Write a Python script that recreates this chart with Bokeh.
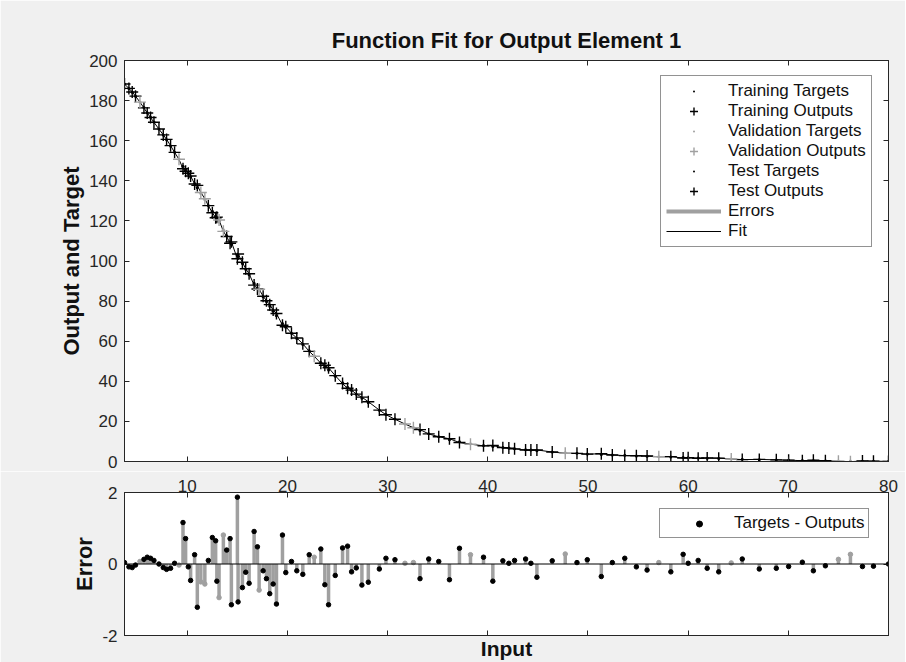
from bokeh.plotting import figure
from bokeh.models import Range1d, LinearAxis, FixedTicker, Legend, LegendItem, ColumnDataSource, Span
from bokeh.layouts import column
from bokeh.embed import file_html
from bokeh.resources import INLINE

# ---------------- data ----------------
x_in = [3.73, 4.17, 4.5, 4.83, 5.27, 5.67, 6.0, 6.33, 6.67, 7.17,
        7.6, 7.93, 8.33, 8.73, 9.17, 9.57, 9.83, 10.1, 10.33, 10.73,
        11.0, 11.35, 11.75, 12.1, 12.5, 12.83, 12.95, 13.17, 13.6, 13.93,
        14.27, 14.4, 15.0, 15.07, 15.5, 15.83, 16.17, 16.67, 17.0, 17.17,
        17.57, 17.9, 18.23, 18.57, 18.9, 19.5, 19.83, 20.4, 20.93, 21.53,
        22.17, 22.67, 23.33, 23.73, 24.1, 24.77, 25.5, 26.0, 26.4, 26.87,
        27.43, 28.07, 29.17, 29.83, 30.73, 31.73, 32.57, 33.23, 34.1, 35.1,
        36.17, 37.17, 38.27, 39.57, 40.5, 41.5, 42.1, 42.67, 43.77, 44.3,
        44.9, 46.43, 47.73, 48.9, 49.93, 51.33, 52.43, 53.67, 54.83, 55.9,
        57.07, 58.27, 59.5, 60.0, 61.0, 61.9, 63.05, 64.3, 65.4, 67.1,
        68.8, 70.03, 71.4, 72.5, 73.7, 75.0, 76.2, 77.4, 78.5, 80.0]

targets = [188.3, 186.0, 184.2, 182.2, 179.3, 176.5, 174.0, 171.7, 169.3, 165.8,
           162.8, 160.5, 157.4, 154.2, 150.7, 147.2, 145.5, 143.7, 141.9, 138.7,
           136.5, 133.7, 130.5, 127.7, 124.8, 122.2, 121.4, 119.5, 115.6, 112.6,
           109.6, 108.4, 103.0, 102.4, 98.7, 95.9, 93.1, 88.9, 86.5, 85.2,
           82.2, 79.8, 77.4, 75.0, 72.7, 68.8, 67.0, 64.0, 61.4, 58.4,
           55.2, 52.7, 49.4, 47.4, 45.6, 42.5, 39.3, 37.0, 35.4, 33.5,
           31.5, 29.3, 25.5, 23.5, 21.2, 18.7, 16.9, 15.5, 13.9, 12.4,
           10.9, 9.9, 8.9, 8.0, 7.5, 7.0, 6.7, 6.4, 5.9, 5.7,
           5.4, 4.8, 4.4, 4.1, 3.8, 3.5, 3.3, 3.1, 2.8, 2.6,
           2.4, 2.2, 2.0, 1.9, 1.75, 1.6, 1.45, 1.25, 1.1, 0.9,
           0.7, 0.6, 0.45, 0.4, 0.3, 0.25, 0.2, 0.15, 0.1, 0.05]

errors = [0.04, -0.08, -0.10, -0.03, 0.07, 0.13, 0.19, 0.16, 0.10, 0.0,
          -0.10, -0.15, -0.12, 0.02, -0.03, 1.16, 0.71, -0.08, -0.46, 0.26,
          -1.21, -0.50, -0.56, 0.10, 0.74, 0.65, -0.48, -0.94, 0.81, 0.39,
          0.71, -1.14, 1.87, -1.06, -0.66, -0.23, -0.54, 0.91, 0.48, -0.73,
          -0.19, -0.41, -0.83, -0.56, -1.12, 0.81, -0.24, 0.07, -0.19, -0.29,
          0.26, 0.19, 0.42, -0.58, -1.14, -0.32, 0.45, 0.50, -0.22, -0.11,
          -0.59, -0.51, -0.14, 0.16, 0.12, 0.02, 0.04, -0.41, 0.14, 0.07,
          -0.44, 0.44, 0.26, 0.19, -0.48, 0.09, 0.02, 0.10, 0.14, 0.02,
          -0.37, 0.09, 0.28, 0.04, 0.12, -0.35, 0.04, 0.16, -0.08, -0.17,
          0.04, -0.22, 0.27, 0.02, 0.10, -0.12, -0.22, 0.03, 0.14, -0.14,
          -0.12, -0.07, 0.05, -0.19, -0.05, 0.13, 0.27, -0.07, -0.06, 0.0]

# t = training, v = validation, s = test
sets = ["t", "t", "t", "t", "v", "t", "t", "t", "t", "t",
        "t", "t", "t", "t", "v", "t", "t", "t", "t", "s",
        "t", "v", "v", "t", "t", "t", "t", "v", "v", "t",
        "t", "s", "t", "t", "t", "t", "t", "t", "t", "v",
        "t", "t", "t", "t", "t", "t", "s", "t", "t", "t",
        "t", "v", "t", "t", "t", "t", "t", "t", "s", "t",
        "t", "t", "t", "t", "t", "v", "v", "t", "t", "t",
        "t", "t", "v", "t", "t", "s", "t", "t", "t", "t",
        "t", "t", "v", "t", "t", "t", "s", "t", "t", "t",
        "v", "t", "t", "t", "t", "t", "s", "v", "t", "t",
        "t", "t", "s", "t", "t", "v", "v", "t", "t", "t"]

x_ticks = [10, 20, 30, 40, 50, 60, 70, 80]
y_ticks = [0, 20, 40, 60, 80, 100, 120, 140, 160, 180, 200]
e_ticks = [-2, 0, 2]
e_tick_labels = {-2: "-2", 0: "0", 2: "2"}

outputs = [t - e for t, e in zip(targets, errors)]

# ---------------- style ----------------
FONT = "Liberation Sans"
AX = "#262626"
BG = "#f0f0f0"
GRAY = "#a0a0a0"
SET_COLOR = {"t": "#000000", "v": GRAY, "s": "#000000"}


def subset(code):
    idx = [i for i, s in enumerate(sets) if s == code]
    return ColumnDataSource(dict(x=[x_in[i] for i in idx],
                                 tgt=[targets[i] for i in idx],
                                 out=[outputs[i] for i in idx]))


def style_axis(ax, labels=True, size="17px", standoff=7):
    ax.major_tick_in = 5
    ax.major_tick_out = 0
    ax.minor_tick_line_color = None
    ax.axis_line_color = AX
    ax.major_tick_line_color = AX
    ax.major_label_text_font = FONT
    if labels:
        ax.major_label_text_color = AX
        ax.major_label_text_font_size = size
        ax.major_label_standoff = standoff
    else:
        ax.major_label_text_color = None
        ax.major_label_text_alpha = 0
        ax.major_label_text_font_size = "1px"
        ax.major_label_standoff = 0
    ax.axis_label_text_font = FONT
    ax.axis_label_text_font_style = "bold"
    ax.axis_label_text_color = "#111111"


x_range = Range1d(x_in[0], x_in[-1])

# ---------------- top panel ----------------
p1 = figure(frame_width=764, frame_height=401, x_range=x_range, y_range=Range1d(0, 200),
            output_backend="svg", toolbar_location=None,
            min_border_left=124, min_border_right=17, min_border_top=60, min_border_bottom=10,
            background_fill_color="white", border_fill_color=BG,
            outline_line_color=AX, outline_line_width=1)
p1.grid.visible = False
p1.xaxis.ticker = FixedTicker(ticks=x_ticks)
p1.yaxis.ticker = FixedTicker(ticks=y_ticks)
style_axis(p1.xaxis[0], labels=False)
style_axis(p1.yaxis[0])
p1.yaxis.axis_label = "Output and Target"
p1.yaxis.axis_label_text_font_size = "22px"
p1.yaxis.axis_label_standoff = 2
top_ax = LinearAxis(ticker=FixedTicker(ticks=x_ticks))
style_axis(top_ax, labels=False)
p1.add_layout(top_ax, "above")
right_ax = LinearAxis(ticker=FixedTicker(ticks=y_ticks))
style_axis(right_ax, labels=False)
p1.add_layout(right_ax, "right")

p1.title.text = "Function Fit for Output Element 1"
p1.title.align = "center"
p1.title.text_font = FONT
p1.title.text_font_size = "22px"
p1.title.text_font_style = "bold"
p1.title.text_color = "#111111"
p1.title.standoff = 15

all_src = ColumnDataSource(dict(x=x_in, tgt=targets, out=outputs))
r_err = p1.segment(x0="x", y0="tgt", x1="x", y1="out", source=all_src,
                   line_color=GRAY, line_width=4)
r_fit = p1.line(x="x", y="out", source=all_src, line_color="#000000", line_width=1)

src_t, src_v, src_s = subset("t"), subset("v"), subset("s")
r_tt = p1.scatter(x="x", y="tgt", source=src_t, marker="dot", size=12,
                  line_color="#000000")
r_to = p1.scatter(x="x", y="out", source=src_t, marker="cross", size=12,
                  line_color="#000000", line_width=1.4)
r_vt = p1.scatter(x="x", y="tgt", source=src_v, marker="dot", size=12,
                  line_color=GRAY)
r_vo = p1.scatter(x="x", y="out", source=src_v, marker="cross", size=12,
                  line_color=GRAY, line_width=1.4)
r_st = p1.scatter(x="x", y="tgt", source=src_s, marker="dot", size=12,
                  line_color="#000000")
r_so = p1.scatter(x="x", y="out", source=src_s, marker="cross", size=12,
                  line_color="#000000", line_width=1.4)

leg1 = Legend(items=[
    LegendItem(label="Training Targets", renderers=[r_tt]),
    LegendItem(label="Training Outputs", renderers=[r_to]),
    LegendItem(label="Validation Targets", renderers=[r_vt]),
    LegendItem(label="Validation Outputs", renderers=[r_vo]),
    LegendItem(label="Test Targets", renderers=[r_st]),
    LegendItem(label="Test Outputs", renderers=[r_so]),
    LegendItem(label="Errors", renderers=[r_err]),
    LegendItem(label="Fit", renderers=[r_fit]),
], location=(536, 214))
leg1.label_text_font = FONT
leg1.label_text_font_size = "17px"
leg1.label_text_color = "#111111"
leg1.glyph_width = 55
leg1.glyph_height = 20
leg1.label_height = 20
leg1.label_standoff = 7
leg1.padding = 5
leg1.spacing = 0
leg1.margin = 0
leg1.border_line_color = AX
leg1.border_line_width = 1
leg1.background_fill_color = "white"
leg1.background_fill_alpha = 1
p1.add_layout(leg1, "center")

# ---------------- bottom panel ----------------
p2 = figure(frame_width=764, frame_height=143, x_range=x_range, y_range=Range1d(-2, 2),
            output_backend="svg", toolbar_location=None,
            min_border_left=124, min_border_right=17, min_border_top=21, min_border_bottom=26,
            background_fill_color="white", border_fill_color=BG,
            outline_line_color=AX, outline_line_width=1)
p2.grid.visible = False
p2.xaxis.ticker = FixedTicker(ticks=x_ticks)
p2.yaxis.ticker = FixedTicker(ticks=e_ticks)
p2.yaxis.major_label_overrides = e_tick_labels
style_axis(p2.xaxis[0], labels=False)
style_axis(p2.yaxis[0])
p2.xaxis.axis_label = "Input"
p2.xaxis.axis_label_text_font_size = "21px"
p2.xaxis.axis_label_standoff = 1
p2.yaxis.axis_label = "Error"
p2.yaxis.axis_label_text_font_size = "22px"
p2.yaxis.axis_label_standoff = 2
# x tick labels of the upper panel sit on this panel's top axis
top_ax2 = LinearAxis(ticker=FixedTicker(ticks=x_ticks))
style_axis(top_ax2, labels=True, standoff=1)
p2.add_layout(top_ax2, "above")
right_ax2 = LinearAxis(ticker=FixedTicker(ticks=e_ticks))
style_axis(right_ax2, labels=False)
p2.add_layout(right_ax2, "right")

err_src = ColumnDataSource(dict(x=x_in, e=errors, zero=[0] * len(x_in),
                                c=[SET_COLOR[s] for s in sets]))
p2.segment(x0="x", y0="zero", x1="x", y1="e", source=err_src, line_color=GRAY, line_width=3.5)
p2.add_layout(Span(location=0, dimension="width", line_color="#000000", line_width=1.2))
r_dots = p2.scatter(x="x", y="e", source=err_src, marker="circle", size=4.5,
                    fill_color="c", line_color="c")

leg2 = Legend(items=[LegendItem(label="Targets - Outputs", renderers=[r_dots], index=0)],
              location=(535, 97))
leg2.label_text_font = FONT
leg2.label_text_font_size = "17px"
leg2.label_text_color = "#111111"
leg2.glyph_width = 70
leg2.glyph_height = 15
leg2.label_height = 17
leg2.label_standoff = 0
leg2.padding = 4
leg2.margin = 0
leg2.border_line_color = AX
leg2.border_line_width = 1
leg2.background_fill_color = "white"
leg2.background_fill_alpha = 1
p2.add_layout(leg2, "center")

layout = column(p1, p2, spacing=0)
open("out.html", "w").write(file_html(layout, INLINE))
